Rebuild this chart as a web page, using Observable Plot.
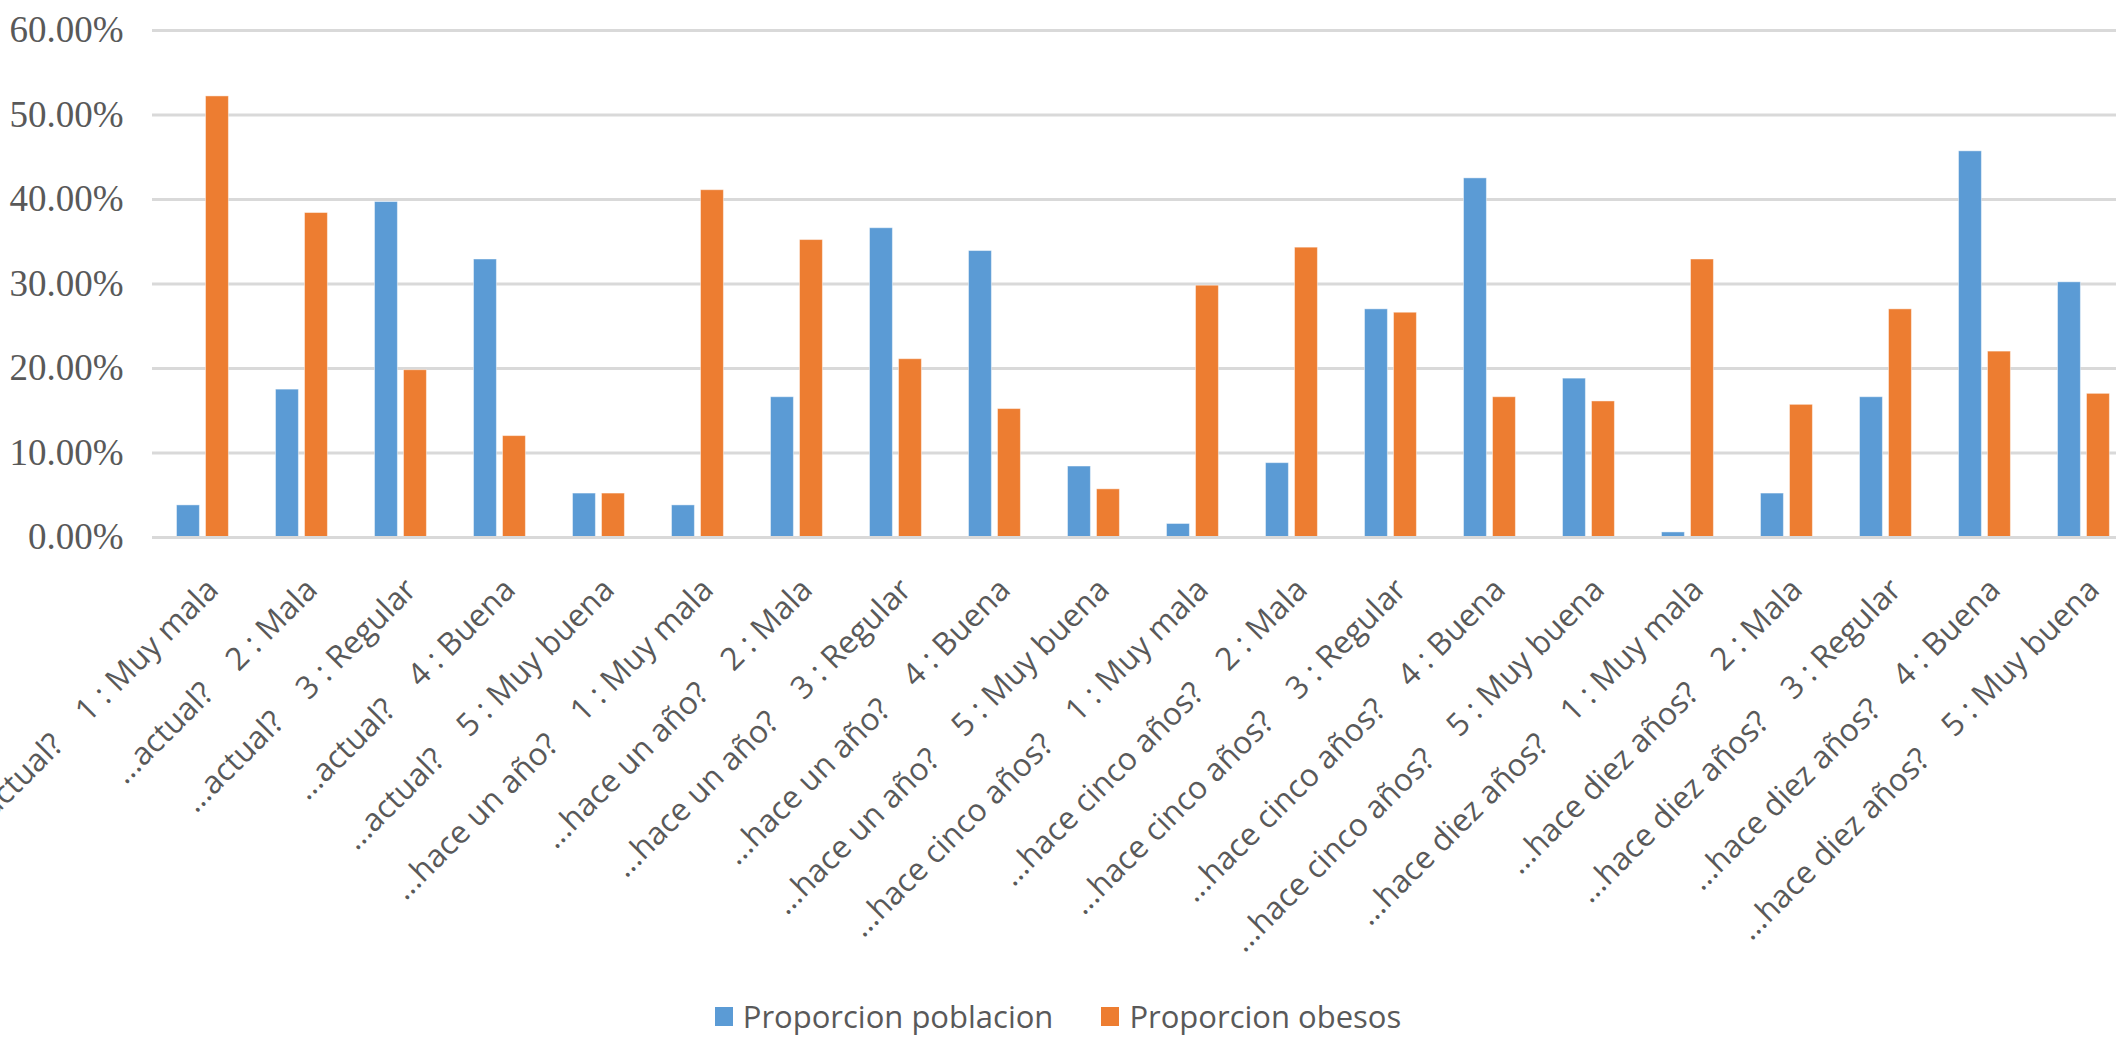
<!DOCTYPE html>
<html>
<head>
<meta charset="utf-8">
<script src="https://cdn.jsdelivr.net/npm/d3@7"></script>
<script src="https://cdn.jsdelivr.net/npm/@observablehq/plot@0.6"></script>
<style>
  html, body { margin: 0; padding: 0; background: #fff; overflow: hidden; }
  #chart svg text { white-space: pre; }
  .legend {
    display: flex; justify-content: center; align-items: center;
    height: 52px; margin-top: 5px;
    font-family: "Open Sans", sans-serif; font-size: 31px; color: #595959;
  }
  .legend .item { display: flex; align-items: center; }
  .legend .item + .item { margin-left: 48px; }
  .legend .swatch { width: 18px; height: 19px; margin-right: 10px; }
</style>
</head>
<body>
<div id="chart"></div>
<div class="legend">
  <div class="item"><span class="swatch" style="background:#5B9BD5"></span>Proporcion poblacion</div>
  <div class="item"><span class="swatch" style="background:#ED7D31"></span>Proporcion obesos</div>
</div>
<script>
// Self-rated health now and 1, 5 and 10 years ago: share of the population vs share of obese people
const categorias = [
  "...actual?    1 : Muy mala",
  "...actual?    2 : Mala",
  "...actual?    3 : Regular",
  "...actual?    4 : Buena",
  "...actual?    5 : Muy buena",
  "...hace un año?    1 : Muy mala",
  "...hace un año?    2 : Mala",
  "...hace un año?    3 : Regular",
  "...hace un año?    4 : Buena",
  "...hace un año?    5 : Muy buena",
  "...hace cinco años?    1 : Muy mala",
  "...hace cinco años?    2 : Mala",
  "...hace cinco años?    3 : Regular",
  "...hace cinco años?    4 : Buena",
  "...hace cinco años?    5 : Muy buena",
  "...hace diez años?    1 : Muy mala",
  "...hace diez años?    2 : Mala",
  "...hace diez años?    3 : Regular",
  "...hace diez años?    4 : Buena",
  "...hace diez años?    5 : Muy buena"
];

const proporcionPoblacion = [
  0.038, 0.175, 0.397, 0.329, 0.052,
  0.038, 0.166, 0.366, 0.339, 0.084,
  0.016, 0.088, 0.270, 0.425, 0.188,
  0.006, 0.052, 0.166, 0.457, 0.302
];

const proporcionObesos = [
  0.522, 0.384, 0.198, 0.120, 0.052,
  0.411, 0.352, 0.211, 0.152, 0.057,
  0.298, 0.343, 0.266, 0.166, 0.161,
  0.329, 0.157, 0.270, 0.220, 0.170
];

const yTicks = [0, 0.1, 0.2, 0.3, 0.4, 0.5, 0.6];

const filas = categorias.map((cat, i) => ({
  cat,
  poblacion: proporcionPoblacion[i],
  obesos: proporcionObesos[i]
}));

const azul = "#5B9BD5";
const naranja = "#ED7D31";
const rejilla = "#D9D9D9";

const chart = Plot.plot({
  width: 2116,
  height: 985,
  marginLeft: 152,
  marginRight: 0,
  marginTop: 30,
  marginBottom: 448,
  style: { color: "#595959", background: "#fff", overflow: "visible" },
  x: { type: "band", domain: categorias, range: [152, 2134], padding: 0, axis: null },
  y: { domain: [0, 0.6], axis: null },
  marks: [
    Plot.ruleY(yTicks.slice(1), { stroke: rejilla, strokeWidth: 3 }),
    Plot.barY(filas, {
      x: "cat", y: "poblacion", fill: azul,
      stroke: "#fff", strokeOpacity: 0.45, strokeWidth: 1,
      insetLeft: 23.5, insetRight: 52.6
    }),
    Plot.barY(filas, {
      x: "cat", y: "obesos", fill: naranja,
      stroke: "#fff", strokeOpacity: 0.45, strokeWidth: 1,
      insetLeft: 52.5, insetRight: 23.6
    }),
    Plot.ruleY([0], { stroke: rejilla, strokeWidth: 3 }),
    Plot.axisY({
      ticks: yTicks,
      tickFormat: d3.format(".2%"),
      tickSize: 0,
      tickPadding: 29,
      fontSize: 37,
      fontFamily: "Liberation Serif, serif",
      fill: "#595959"
    }),
    Plot.text(categorias, {
      x: d => d,
      frameAnchor: "bottom",
      rotate: -45,
      textAnchor: "end",
      lineAnchor: "middle",
      dx: 10,
      dy: 47,
      fontSize: 31.5,
      fontFamily: "Open Sans, sans-serif",
      fill: "#595959"
    })
  ]
});

document.getElementById("chart").appendChild(chart);
</script>
</body>
</html>
